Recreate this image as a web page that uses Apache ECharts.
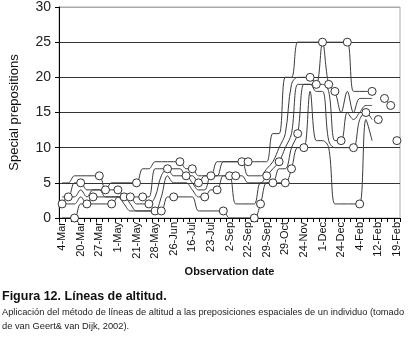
<!DOCTYPE html>
<html><head><meta charset="utf-8">
<script src="https://cdn.jsdelivr.net/npm/echarts@6/dist/echarts.min.js"></script>
<style>html,body{margin:0;padding:0;background:#fff}#c{width:411px;height:351px}</style>
</head><body><div id="c"></div>
<script>
// tick labels (one every 3 observations)
var tickLabels = ['4-Mar','20-Mar','27-Mar','1-May','21-May','28-May','26-Jun','16-Jul','23-Jul','2-Sep','22-Sep','29-Sep','29-Oct','24-Nov','1-Dec','24-Dec','4-Feb','12-Feb','19-Feb'];
// raw observations (open circles)
var observed = [2,3,0,5,2,3,6,4,2,4,3,3,5,3,2,1,1,7,3,8,6,7,5,3,6,4,1,6,6,8,8,0,2,6,5,8,5,7,12,10,20,19,25,19,18,11,25,10,2,15,18,14,17,16,11];
// altitude lines
var line1 = [5,5,6,6,6,6,6,4,5,5,5,5,5,7,7,8,8,8,8,8,7,7,6,6,6,8,8,8,8,8,8,8,8,8,12,12,20,20,25,25,25,25,25,25,25,25,25,18,18,18,18];
var line2 = [3,3,5,5,4,4,4,4,4,4,3,3,3,3,3,7,7,7,7,7,6,6,5,6,6,6,8,8,8,8,6,6,6,7,8,10,12,19,20,20,20,19,25,19,18,15,18,15,17,17,17];
var line3 = [2,3,3,4,3,4,4,3,3,3,3,3,2,2,2,3,6,7,6,6,6,5,4,4,6,6,6,6,6,6,5,5,5,6,7,8,10,12,19,19,19,19,19,18,11,11,15,14,15,16,16];
var line4 = [2,2,2,3,2,3,3,3,3,3,3,2,1,1,1,1,3,6,5,5,5,4,3,3,4,4,6,6,2,2,2,2,5,5,5,7,7,10,12,19,19,18,18,11,10,10,10,10,14,15,14];
var line5 = [0,0,0,2,2,2,2,2,2,3,2,1,1,1,1,1,1,3,3,3,3,3,1,1,1,1,1,0,0,0,0,0,2,5,5,5,5,7,10,10,18,11,11,10,2,2,2,2,2,14,11];

var categories = observed.map(function(_, i){ return i % 3 === 0 ? tickLabels[i/3] : ''; });
var FONT = 'Liberation Sans, Arial, sans-serif';

var lines = [line1, line2, line3, line4, line5].map(function(d){
  return {type:'line', data:d, smooth:0.35, symbol:'none', silent:true, z:2,
    lineStyle:{color:'#3a3a3a', width:1}};
});
lines.push({type:'line', data:observed, z:5, symbol:'circle', symbolSize:8,
  lineStyle:{width:0, opacity:0},
  itemStyle:{color:'#fff', borderColor:'#333', borderWidth:1}});

var chart = echarts.init(document.getElementById('c'), null, {renderer:'canvas'});
chart.setOption({
  animation:false,
  backgroundColor:'#fff',
  grid:{left:58, right:11, top:7, bottom:133, show:true, borderColor:'#aaa', borderWidth:1},
  xAxis:{type:'category', data:categories, boundaryGap:true,
    name:'Observation date', nameLocation:'middle', nameGap:38,
    nameTextStyle:{fontFamily:FONT, fontWeight:'bold', fontSize:11, color:'#111'},
    axisLine:{lineStyle:{color:'#000', width:1}},
    axisTick:{show:true, interval:0, length:4, lineStyle:{color:'#000'}},
    axisLabel:{interval:0, rotate:90, fontFamily:FONT, fontSize:11, color:'#111', margin:4}},
  yAxis:{type:'value', min:0, max:30, interval:5,
    name:'Special prepositions', nameLocation:'middle', nameGap:38,
    nameTextStyle:{fontFamily:FONT, fontSize:13, color:'#111'},
    axisLine:{show:true, lineStyle:{color:'#000', width:1}},
    axisTick:{show:true, length:4, lineStyle:{color:'#000'}},
    axisLabel:{fontFamily:FONT, fontSize:14, color:'#222', margin:8},
    splitLine:{show:true, lineStyle:{color:['#000','#333','#333','#333','#333','#333','#aaa'], width:1}}},
  graphic:[
    {type:'text', left:2, top:290, style:{text:'Figura 12. Líneas de altitud.', font:'bold 12.5px Liberation Sans, Arial, sans-serif', fill:'#111'}},
    {type:'text', left:2, top:305, style:{text:'Aplicación del método de líneas de altitud a las preposiciones espaciales de un individuo (tomado\nde van Geert& van Dijk, 2002).', font:'9.3px Liberation Sans, Arial, sans-serif', lineHeight:14, fill:'#222'}}
  ],
  series:lines
});
</script></body></html>
